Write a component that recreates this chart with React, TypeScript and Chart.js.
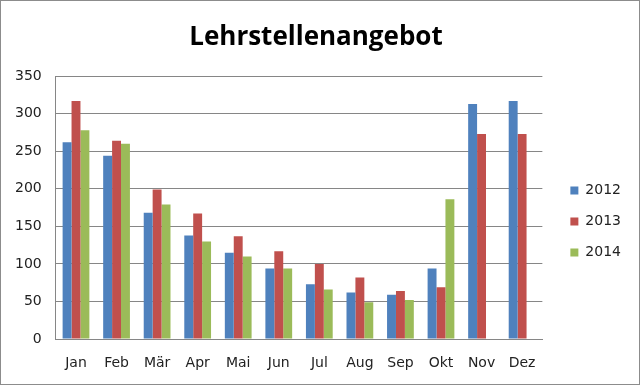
import React, { useEffect, useRef } from "react";
import { Chart, registerables } from "chart.js";

Chart.register(...registerables);

const categories = ["Jan", "Feb", "Mär", "Apr", "Mai", "Jun", "Jul", "Aug", "Sep", "Okt", "Nov", "Dez"];
const values2012 = [262, 244, 168, 138, 115, 94, 73, 62, 59, 94, 313, 317];
const values2013 = [317, 264, 199, 167, 137, 117, 100, 82, 64, 69, 273, 273];
const values2014 = [278, 260, 179, 130, 110, 94, 66, 49, 52, 186, null, null];
const yTicks = [0, 50, 100, 150, 200, 250, 300, 350];

export default function App() {
  const ref = useRef<HTMLCanvasElement | null>(null);
  useEffect(() => {
    document.body.style.margin = "0";
    const ctx = ref.current!;
    const chart = new Chart(ctx, {
      type: "bar",
      data: {
        labels: categories,
        datasets: [
          { label: "2012", data: values2012, backgroundColor: "#4F81BD" },
          { label: "2013", data: values2013, backgroundColor: "#C0504D" },
          { label: "2014", data: values2014 as any, backgroundColor: "#9BBB59" },
        ],
      },
      options: {
        animation: false,
        responsive: false,
        maintainAspectRatio: false,
        datasets: { bar: { categoryPercentage: 0.66, barPercentage: 1 } },
        layout: { padding: { top: 0, left: 0, right: 8, bottom: 0 } },
        plugins: {
          title: {
            display: true,
            text: "Lehrstellenangebot",
            color: "#000",
            font: { family: "Open Sans", size: 26, weight: "bold" },
            padding: { top: 21, bottom: 23 },
          },
          legend: {
            position: "right",
            title: { display: true, text: " ", font: { size: 10 }, padding: { top: 0, bottom: 46 } },
            labels: {
              boxWidth: 8,
              boxHeight: 8,
              padding: 17,
              color: "#222",
              font: { family: "DejaVu Sans", size: 14 },
            },
          },
          tooltip: { enabled: false },
        },
        scales: {
          x: {
            grid: { display: false, drawTicks: false },
            border: { color: "#868686", width: 1 },
            ticks: { color: "#222", padding: 16, font: { family: "DejaVu Sans", size: 14 } },
            afterFit: (s: any) => {
              s.height = 45;
            },
          },
          y: {
            min: 0,
            max: 350,
            afterBuildTicks: (s: any) => {
              s.ticks = yTicks.map((v) => ({ value: v }));
            },
            grid: { color: "#868686", drawTicks: false },
            border: { color: "#868686", width: 1 },
            ticks: { color: "#222", padding: 14, font: { family: "DejaVu Sans", size: 14 } },
          },
          gap: {
            type: "linear",
            position: "right",
            display: true,
            grid: { display: false, drawTicks: false },
            border: { display: false },
            ticks: { display: false },
            afterFit: (s: any) => {
              s.width = 11;
            },
          },
        },
      },
    });
    return () => chart.destroy();
  }, []);
  return (
    <div style={{ width: 640, height: 385, border: "1px solid #8c8c8c", boxSizing: "border-box", background: "#fff" }}>
      <canvas ref={ref} width={638} height={383} style={{ display: "block" }} />
    </div>
  );
}
